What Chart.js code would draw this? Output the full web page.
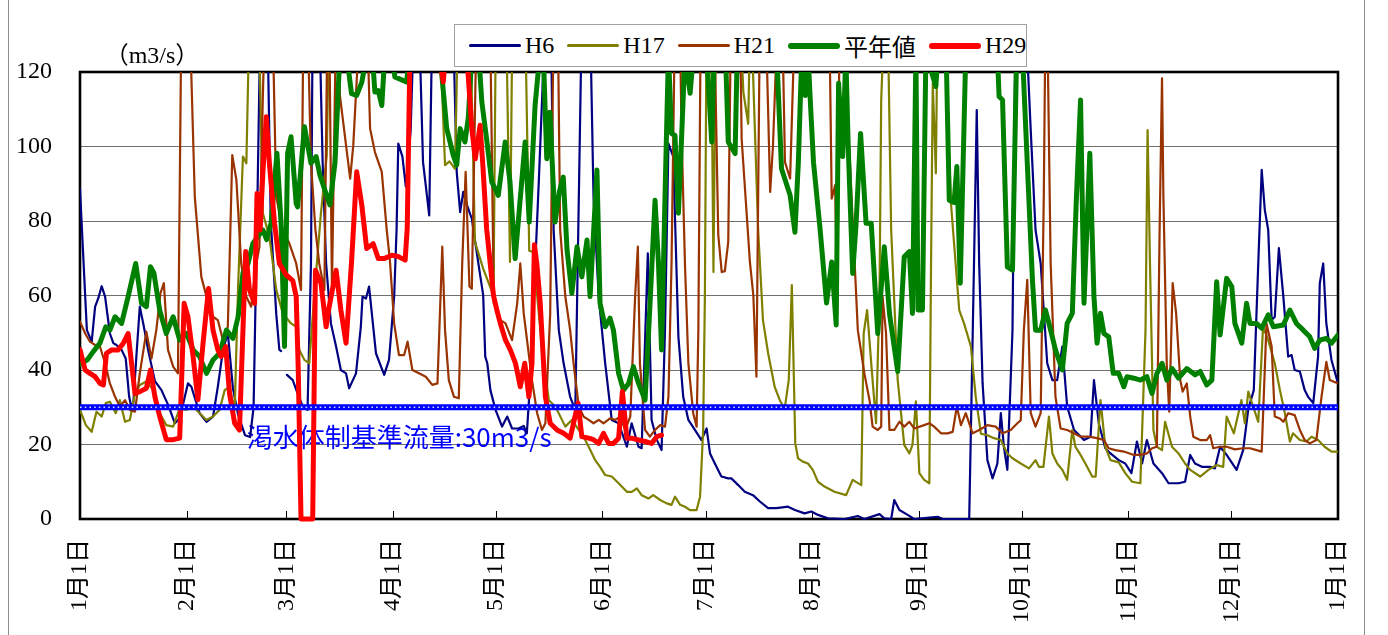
<!DOCTYPE html>
<html>
<head>
<meta charset="utf-8">
<script src="https://cdn.jsdelivr.net/npm/chart.js@4.4.0/dist/chart.umd.min.js"></script>
<style>
body{margin:0;background:#fff;}
#wrap{position:relative;width:1388px;height:635px;overflow:hidden;background:#fff;}
#frame{position:absolute;left:8px;top:0;width:1355px;height:635px;border-left:1px solid #8c8c8c;border-right:1px solid #8c8c8c;}
canvas{position:absolute;left:0;top:0;}
#unit{position:absolute;left:102px;top:40px;width:100px;text-align:center;font:24px "Liberation Serif","Noto Sans CJK JP",serif;font-feature-settings:"halt";line-height:30px;}
#legend{position:absolute;left:454px;top:24px;width:573px;height:43px;box-sizing:border-box;border:1px solid #a0a0a0;background:#fff;display:flex;align-items:center;padding-left:14px;font:24px "Liberation Serif","Noto Sans CJK JP",serif;}
.item{display:flex;align-items:center;margin-right:13px;white-space:nowrap;}
.swatch{width:52px;margin-right:4px;border-radius:3px;}
</style>
</head>
<body>
<div id="wrap">
  <div id="frame"></div>
  <canvas id="flowChart" width="1388" height="635"></canvas>
  <div id="unit">（m3/s）</div>
  <div id="legend"></div>
</div>
<script>
// x = day of year (leap-year calendar, Feb 29 included), y = flow (m3/s)
// values above 120 run off the top of the plot
const monthStartDays = [0, 31, 60, 91, 121, 152, 182, 213, 244, 274, 305, 335, 366];
const monthLabels = ['1月1日','2月1日','3月1日','4月1日','5月1日','6月1日','7月1日','8月1日','9月1日','10月1日','11月1日','12月1日','1月1日'];

const droughtFlow = 30;
const droughtLabel = '渇水体制基準流量:30m3/s';

const h6 = [[0,88.5],[1.5,60],[2,50.7],[3.4,47.6],[4.4,57],[5.3,59.2],[6.3,62.5],[7.3,59.7],[8.7,49.8],[9.7,47.2],[10.6,46.7],[12.1,45.4],[13.3,43.1],[14.3,32.8],[14.8,30.6],[15.5,31],[16.5,45],[17.4,57],[18.5,52],[19.9,45],[21.8,37],[23.7,34.6],[25.7,30.5],[27.6,25.7],[29,27],[31.4,36.4],[32.4,35.5],[34.8,28.4],[36.8,26.1],[38.7,27.5],[40.1,35.5],[41.6,45.4],[43,50],[44.5,35],[46,28],[48,22.5],[49.5,22],[50.5,30],[51.7,90],[52.5,135],[54.5,135],[55.5,80],[57.1,55],[58,45.4],[58.5,45.1],[59,null],[60.2,38.7],[61.9,37.3],[63.3,33.7],[64.8,30.2],[66.2,29.3],[67.2,68.6],[67.7,135],[69.6,135],[70.6,95.5],[71.6,68.6],[73,52.5],[74.5,46.3],[75.9,40],[77.4,39.1],[78.3,35.1],[80.3,39.1],[81.7,51.6],[82.2,59.7],[83.2,59.2],[84.1,62.4],[86.1,44.5],[88.5,38.7],[89.9,42.7],[91.4,59.7],[92.1,77.6],[92.6,100.8],[93.8,97.3],[94.8,89.2],[96.2,104.4],[97.2,135],[98.6,135],[99.8,95.8],[100.7,88.7],[101.6,81.5],[102.5,135],[108.5,135],[109.6,93.2],[110.6,82.4],[111.5,87.8],[112.7,84],[114,80.6],[116,68],[117.3,60.1],[117.9,43.6],[118.5,41.8],[119.4,34.6],[120.9,29.3],[122.8,24.8],[124.3,27.5],[125.7,24.3],[127.6,24.3],[129.1,25],[130,23],[131,37.3],[133.5,91],[135.4,135],[137,135],[137.8,77.6],[139.3,50.7],[140.7,41.8],[142.6,32.8],[144.1,29.3],[146,135],[148.4,135],[149.4,86.5],[150.9,59.7],[152.8,41.8],[154.7,26.6],[156.7,25.7],[159.1,19.4],[160.5,25.7],[162.5,19.4],[163.4,19],[165.2,71.3],[166.3,26.6],[167.8,21.3],[169.2,18.5],[170.2,50.7],[171.2,100.8],[172.6,97.3],[174.1,48.9],[175.5,32.8],[177,26.6],[178.9,23.9],[180.8,21.2],[182.3,24.3],[183.3,17.6],[184.7,14.9],[186.6,11.4],[188.6,10.9],[189.5,10.9],[191.5,9.1],[193.4,7.3],[195.8,6.4],[197.8,4.7],[200.2,2.9],[202.6,2.9],[206,3.3],[208,2.4],[210.8,1.5],[212.8,2],[214.7,1.1],[217.6,0.2],[222.4,0],[226.3,0.8],[228.2,0],[232.6,1.3],[234,0.2],[236,0],[236.9,5.1],[238.4,2.4],[240.8,1.1],[242.7,0],[249.5,0.6],[251,0],[258.7,0],[259.2,23.9],[260.1,68.6],[260.9,109.8],[261.6,68.6],[262.6,36.4],[264,15.8],[265.5,10.9],[266.9,14.9],[267.9,28.4],[268.8,19.4],[269.8,13.2],[271.3,50.7],[272.2,135],[275.1,135],[276.6,104.4],[278,77.6],[279.5,68.6],[281.4,41.8],[282.9,37.3],[284.3,37.3],[285.8,46.3],[287.2,30.2],[289.2,23.9],[292.1,21.2],[294,22.1],[295,37.3],[296.4,25.7],[298.3,19],[299.8,17.6],[302.2,15.8],[304.1,14.9],[305.9,12.3],[307.5,20.8],[309,14.9],[310.4,21.2],[312.3,14.9],[314.8,12.3],[316.7,9.6],[319.6,9.6],[321.5,10],[323,17.2],[324.4,14.9],[326.4,14],[328.8,14],[330.2,13.6],[331.7,19.4],[333.6,17.2],[336.5,13.2],[338.4,18.5],[339.9,29.5],[341.5,34.6],[342.8,68.6],[343.8,93.7],[344.7,83],[345.7,77.6],[346.7,53.4],[347.6,54.3],[348.8,72.7],[350.1,59.7],[351.5,43.6],[352.5,44],[353.4,40],[354.9,39.6],[356.3,34.6],[357.3,32.8],[358.8,31.1],[360.2,43.6],[360.7,63.3],[361.7,68.6],[362.6,52.5],[364.1,42.7],[366,36.4]];

const h17 = [[0,29.3],[1.7,25.2],[3.4,23.4],[4.8,28.8],[6.3,27.5],[7.5,31.1],[8.7,31.5],[10.4,28.4],[11.6,31.9],[13.1,26.1],[14.5,26.6],[16,33.7],[17.4,36],[19.3,36.9],[21.3,34.6],[23.2,28.4],[25.1,25.2],[27.1,24.8],[29,29.7],[31,29.3],[32.9,30.2],[34.8,28.4],[36.8,26.6],[38.7,27.5],[40.6,29.3],[42.1,34.6],[43.5,35.5],[45,29.3],[46,62.4],[47.4,97.3],[48.4,95.5],[49.3,135],[52,135],[53.2,82.1],[55.1,75.8],[57.1,61.5],[59,55.2],[61.4,52.5],[62.9,51.6],[63.8,45.4],[65.3,42.7],[66.7,41.8],[68.2,60.6],[70.1,82.1],[71.8,97.6],[72.5,135],[104.5,135],[106.2,95],[107.5,96],[109.1,94],[110,135],[113.5,135],[114.9,74.4],[117.3,67.2],[120.3,60],[121,135],[124,135],[125.1,69],[125.8,135],[129.5,135],[130.7,72],[131.8,71.7],[133,60],[134.5,45],[136.4,31.9],[138.3,30.2],[141.2,24.8],[143.1,26.6],[145.1,23.9],[146.5,22.1],[148,19.4],[149.9,15.8],[151.3,14],[152.8,11.8],[154.7,11.4],[156.7,9.6],[159.1,7.3],[160.5,7.3],[162,8.2],[163.4,6.4],[165.4,5.5],[166.8,6.4],[168.8,5.1],[170.7,4.2],[172.1,3.8],[173.1,6],[174.6,3.8],[176,3.3],[177.5,2.4],[179.4,2.4],[180.4,6],[181.3,23.9],[181.8,59.7],[182.3,135],[183.6,135],[184.3,66.3],[185,135],[192,135],[193,114.6],[194.4,106.1],[195,135],[195.8,120],[197.3,77.6],[198.7,53.4],[200.2,44.5],[202.1,35.5],[203.6,31.9],[205,29.5],[206.2,37.3],[207.1,62.8],[208.1,20.3],[208.9,16.3],[210.3,15.4],[211.8,14.9],[213.2,13.2],[214.7,10],[216.6,8.7],[219.5,7.3],[222.9,6.4],[224.8,10.5],[227.3,9.1],[228,49.8],[229,56.1],[230.2,41.8],[231.6,25.7],[232.6,59.7],[233.1,112.5],[234,135],[235,135],[236,77.6],[237.9,37.3],[239.8,19.9],[241.3,17.6],[242.2,19.9],[243.2,31.6],[244.2,12.3],[245.6,10.5],[247.1,9.6],[247.6,68.6],[248.1,117],[249,92.8],[249.5,135],[251.4,135],[253.4,84.7],[255.8,56.1],[257.2,52.5],[259.2,46.3],[260.6,32.8],[262.1,22.9],[264,22.5],[265.9,21.7],[267.9,21.2],[269.8,17.6],[271.3,16.3],[273.7,14.9],[276.1,13.6],[278,15.8],[279,14],[280.3,14],[281.9,27.5],[282.9,17.6],[284.3,14.9],[285.8,13.2],[287.2,10.5],[288.7,23.9],[289.6,19.4],[291.1,17.2],[292.5,14.9],[294.5,11.4],[295.5,11.4],[296.9,31.9],[298.3,19.4],[299.8,15.8],[302.2,15.2],[304.1,12.3],[306.1,10],[308.5,9.6],[310,50.7],[310.6,104.4],[311.3,68.6],[312.3,23.9],[313.3,19.4],[314.8,18.5],[315.7,26.1],[317.7,19.4],[319.6,17.6],[321.5,14.9],[323,13.2],[325.9,11.4],[328.3,13.2],[330.7,14.5],[332.6,14],[333.6,27.5],[335.7,23],[337.9,31.9],[338.9,25.7],[339.9,34.2],[341.3,30.2],[342.8,26.1],[344.2,51.6],[345.7,48],[347.6,41.8],[349.1,34.6],[350.5,28.6],[352,20.8],[352.9,23],[354.9,21.2],[356.8,20.8],[358.3,22.1],[360.2,21.2],[362.1,19.4],[364.1,18.1],[366,18.1]];

const h21 = [[0,53],[1.5,49.8],[2.9,47.6],[4.4,46.7],[5.8,46.3],[7.3,41.8],[8.7,36.4],[10.2,32.8],[11.6,30.2],[13.1,31.9],[14.5,29.3],[16,28.8],[17.4,39.1],[19.3,50.3],[20.8,43.1],[22.2,50.7],[23.4,60.6],[24.4,63.3],[25.6,45.4],[27.1,40.9],[28.5,39.1],[29.5,135],[31.9,135],[33.4,86.5],[35.3,65],[36.8,59.7],[38.7,54.3],[40.1,53.4],[41.6,48],[43,51.6],[43.5,68.6],[44.3,97.7],[45.5,91],[46.9,68.6],[48.4,59.7],[49.8,57],[51.3,68.6],[52.2,73.1],[53.2,113.4],[53.8,135],[56,135],[57.1,86.5],[59,77.6],[60.9,74],[62.9,68.6],[64.3,61.5],[65,135],[66.2,135],[67.2,95.5],[68.5,77.6],[69.6,68.6],[71.1,61.5],[72,135],[72.5,135],[73.3,62],[74.5,135],[75.6,113.8],[78.6,91.4],[79.5,100.3],[81.5,135],[83.5,135],[84.4,104.8],[85.8,98.5],[87.8,93.2],[89.2,78],[90.2,69],[91.4,52.5],[92.8,44],[94.3,44],[95.3,47.6],[96.7,40],[98.6,39.1],[100.6,38.2],[102.5,36],[104,36.4],[105.4,73.1],[106.2,50.7],[107.3,37.3],[108.8,32.8],[110.2,32.4],[111.2,68.6],[112.2,93.2],[113.3,62.4],[114,61.8],[115.4,135],[119.3,135],[120.4,57.9],[122.3,53.4],[123.8,52.5],[125.7,48],[127.2,57.9],[128.1,68.6],[129.1,55.2],[131.5,37.3],[133,28.4],[134.4,23.9],[135.4,25.7],[136.8,55.2],[137.8,135],[139,135],[139.7,77.6],[141.2,59.7],[142.6,50.7],[143.6,41.8],[145.1,30.2],[146.5,27.5],[148,26.6],[149.4,25.7],[150.9,26.6],[152.3,25.7],[154.2,27],[155.7,26.6],[157.2,27.5],[158.6,23.9],[160.1,27.5],[161.5,59.7],[162.3,73.1],[162.9,41.8],[164.4,23.9],[165.8,22.1],[167.3,23.9],[168.8,25.2],[170.2,24.8],[171.2,32.8],[172.1,68.6],[173.1,135],[174.5,135],[175,104.4],[176,68.6],[177,41.8],[178.4,28.4],[179.4,24.8],[179.9,50.7],[180.6,135],[184.5,135],[185.7,76.2],[186.7,66.3],[187.6,66.5],[188.6,74.4],[189.4,135],[192,135],[192.5,102],[194.9,69],[195.9,60],[196.8,38.2],[197.8,135],[199.5,135],[200.8,87.8],[201.6,100],[203,135],[204.3,135],[205.1,95.8],[206.6,91.4],[208,135],[218,135],[218.7,86],[219.7,89.6],[220.3,55.2],[221,135],[222,135],[226.3,50.7],[228.2,39.1],[229.7,31.9],[230.6,24.8],[232.1,23.9],[233.1,24.8],[233.5,59.7],[234.5,50],[235.5,23.9],[236.9,23.9],[238.4,26.1],[239.8,24.8],[241.3,26.1],[242.7,24.3],[245.6,25.2],[247.1,25.7],[248.5,24.8],[250.5,23],[252.4,23],[253.9,23.4],[255.1,30.2],[256.3,25.2],[257.7,28.4],[259.7,23],[261.6,23.9],[264,25.2],[266.4,24.8],[268.4,23],[270.8,23.9],[272.7,25.7],[273.7,26.5],[274.6,50.7],[275.6,64.2],[276.6,28.4],[278,24.8],[279.5,28.4],[280.4,86.5],[280.9,135],[281.4,135],[282.4,68.6],[283.8,32.8],[285.3,24.3],[287.2,23.9],[289.2,23],[291.1,22.1],[293.5,22.1],[295.9,21.7],[297.9,21.2],[299.3,19],[301.2,18.5],[303.7,18.1],[306.6,17.2],[308.5,17.2],[310.4,17.6],[311.9,19],[313.3,19.4],[314.1,77.6],[314.8,118.3],[315.2,86.5],[316.2,40.9],[316.9,28.8],[317.9,63.3],[318.9,55.2],[320.1,37.3],[320.8,34.2],[322,36.4],[323,27.5],[323.9,22.1],[325.9,21.2],[327.8,21.2],[328.8,22.5],[329.7,19],[331.7,19.4],[333.6,19.4],[336,18.7],[338.4,19],[340.4,19],[342.3,18.5],[343.8,18.1],[345.2,52.5],[346.7,46.3],[347.6,27.5],[349.1,27],[350.1,26.1],[351.5,28.4],[353.4,27.9],[354.9,23.9],[356.3,21.2],[357.8,20.3],[359.7,21.2],[361.2,32.8],[362.6,42.2],[363.6,37.3],[366,36.4]];

const normalYear = [[0,41.5],[2.1,42.7],[3.9,45],[5.8,47.2],[7.5,51.6],[8.7,50.7],[10.2,54.3],[12.1,52.5],[14,59.7],[16.2,68.6],[17.9,57.9],[19.3,57],[20.5,67.7],[21.5,66],[23.2,56],[25.1,49.8],[27.1,54.3],[29,48],[31,49.8],[32.9,45.4],[34.8,43.6],[36.8,39.1],[38.7,42.7],[40.6,44.5],[42.6,50.7],[44.5,48.5],[46,54.3],[47.4,66],[48.9,68.6],[50.3,74],[51.7,75.8],[53.2,77.6],[54.3,75],[55.6,79.4],[57.3,98.2],[58.5,79.4],[59.5,46.3],[60.4,98.2],[61.4,102.6],[62.9,84.7],[63.3,83.8],[65.3,105.3],[67.2,95.5],[68.7,97.3],[69.8,92.3],[72.7,84.3],[74.2,95.8],[75.6,125],[77.5,125],[79,114.2],[80.5,113.7],[82,117.3],[83.5,125],[85,125],[85.8,114.6],[86.8,115],[87.8,111],[88.7,125],[90.8,125],[91.6,118.7],[95,117.3],[96,125],[104.7,125],[106.7,104.8],[108.6,97.6],[109.6,95],[110.6,104.8],[112,101.2],[113,108],[114,125],[116,125],[116.9,112],[118.3,102],[119.8,90.5],[121.7,86.9],[123.7,101.2],[125.1,90.5],[126.6,69.9],[128,85.1],[129.5,101.2],[130.7,79.7],[132.4,111],[133.8,125],[134.8,125],[135.8,96.7],[136.7,109.2],[138.2,79.7],[139.5,88],[140.6,91.8],[141.7,72.2],[143.1,60.6],[144.6,73.1],[146,65],[147.5,74.9],[148.4,59.7],[150.4,93.7],[151.3,57.9],[152.8,51.6],[154.2,53.9],[155.2,50.7],[156.7,39.1],[158.1,34.6],[159.6,36.4],[161,40.9],[162.5,36.4],[164.4,31.9],[165.8,57],[167.3,85.6],[168.3,68.6],[169.2,45.4],[170.2,86.5],[171.2,125],[172.1,103.5],[173.1,103],[174.1,82.1],[175,101.8],[176,125],[177.5,114.3],[178.5,125],[182.3,125],[183.8,101.2],[184.5,125],[187.8,125],[188.6,101.2],[190.6,98.1],[191.2,125],[202.7,125],[204.1,94],[206.6,86.9],[208,77],[209,95.8],[210,125],[211,113.7],[211.8,125],[212.6,110],[213.4,95.8],[215.3,78],[217.2,58],[218.7,69],[220,52.1],[220.7,117],[221.9,97.3],[222.8,125],[223.5,100],[224.8,65.9],[225.8,79.4],[227.1,103.5],[228.7,79.4],[230.2,79.4],[232.1,49.8],[234,73.1],[235.5,55.2],[237.9,39.6],[239.8,70.4],[241.3,71.8],[242.2,55.2],[243.2,125],[243.8,56.1],[245.1,56.1],[246.1,125],[249,116.1],[249.6,125],[252,125],[252.9,85.6],[254.3,85],[255.1,94.6],[256.1,63.3],[257.7,125],[266.9,125],[267.4,113.4],[268.4,112.5],[269.8,67.7],[271.3,66.8],[272.5,125],[274.2,125],[275.6,95.5],[277.1,64.2],[278,50.7],[279.5,50.7],[280.9,56.1],[282.4,50.7],[283.8,45.4],[285.8,40],[287.2,52.5],[288.7,55.2],[289.9,86.5],[291.1,112.5],[292.1,57.9],[293.8,98.2],[295,59.7],[295.9,47.2],[296.9,55.2],[297.9,49.8],[299.3,48.9],[300.6,39.1],[302.2,39.1],[303.7,35.5],[304.6,38.2],[306.6,37.8],[308.5,37.3],[310.4,38.2],[311.9,33.7],[313.3,39],[314.8,41.8],[316.2,37.3],[317.7,40.4],[319.6,37.8],[322,40.4],[324.4,38.7],[325.9,39.6],[327.8,36],[329.3,37.3],[330.7,63.7],[331.7,49.4],[333.6,64.6],[335.1,62.4],[336,52.5],[338,47.2],[339.4,57.9],[340.4,52.5],[342.3,52.5],[343.8,51.2],[345.7,54.8],[347.2,51.6],[350.1,52.1],[352,56.1],[353.9,52.5],[355.9,50.7],[357.8,48.9],[359.2,45.8],[360.7,48],[362.6,48.5],[364.1,47.2],[366,49.4]];

const h29 = [[0,45.5],[1.5,40],[2.9,39.1],[4.4,38.2],[5.8,36.4],[6.8,36],[7.7,44.5],[9.2,45.4],[11.1,45.4],[12.6,47.2],[14,49.8],[15,41.8],[16,33.7],[17.4,34.2],[19.3,35.1],[20.5,40],[21.8,32.8],[23.2,27.5],[25.1,21.3],[27.1,21.3],[29,21.7],[30.3,57.9],[31.4,54.3],[32.9,43.6],[34.3,32],[35.8,47.2],[37.4,61.9],[38.7,50.7],[40.1,45.4],[41.1,43.6],[42.4,46.3],[43.5,33.7],[45,25.7],[46.4,23.9],[48.2,71.8],[49.3,61.5],[50.8,57.9],[51.5,87.4],[52.4,77.6],[53.2,92.8],[54.2,108],[55.1,95.5],[56.6,79.4],[58,68.6],[60,65.5],[61.9,64],[62.9,59.7],[63.5,40],[64.3,0],[67.7,0],[68.2,41.8],[68.5,66.8],[70.1,63.3],[71.6,51.6],[72.5,57],[74.5,66.8],[75.9,56.1],[77.4,47.2],[79,69],[80.5,93.2],[82,84.2],[83.4,72.6],[85.3,73.9],[86.8,69.9],[88.5,69.9],[90.7,70.8],[92.5,70.5],[94.6,69.5],[95.2,78],[96,125],[104.4,125],[105.7,117.3],[106.3,125],[112.5,125],[114,104.8],[115,96.7],[116.4,105.7],[117.2,95],[118.3,78],[120.3,60],[121.3,56],[122.3,52.5],[123.8,48],[125.2,45.4],[126.7,41.8],[128.1,35.5],[129.4,41.8],[130.6,32.8],[131.5,41.8],[132.2,73.6],[132.9,68.6],[133.9,57.9],[135.4,32.8],[136.8,25.7],[138.8,23.9],[140.7,23],[142.6,21.7],[144.9,31.1],[146,22.1],[148,21.7],[149.4,21.3],[150.9,20.3],[152.3,23],[153.8,20.3],[155.2,20.3],[156.7,21.7],[157.8,34.2],[159.1,21.7],[160.5,21.7],[162.5,21.2],[164.4,20.8],[166.3,20.3],[167.8,22.1],[169.2,22.5]];

const seriesNames = ['H6', 'H17', 'H21', '平年値', 'H29'];
const seriesData = [h6, h17, h21, normalYear, h29];
const seriesColors = ['#000080', '#808000', '#993300', '#008000', '#ff0000'];
const seriesWidths = [2.2, 2.2, 2.2, 5, 5];

const serif = '"Liberation Serif", "Noto Sans CJK JP", serif';

function toPoints(pairs) {
    return pairs.map(p => ({x: p[0], y: p[1]}));
}

// dataset 0 is painted last, so reverse: H29 ends up on top
const lineSets = seriesNames.map((name, i) => ({
    label: name,
    data: toPoints(seriesData[i]),
    borderColor: seriesColors[i],
    backgroundColor: seriesColors[i],
    borderWidth: seriesWidths[i],
    borderJoinStyle: 'round',
    borderCapStyle: 'round',
    pointRadius: 0,
    tension: 0,
    spanGaps: false,
    clip: {left: 0, top: 0, right: 0, bottom: 4}
})).reverse();

const xMin = monthStartDays[0];
const xMax = monthStartDays[monthStartDays.length - 1];

const droughtSets = [
    {
        label: 'dots',
        data: [{x: xMin, y: droughtFlow}, {x: xMax, y: droughtFlow}],
        borderColor: 'rgba(210,225,255,0.95)',
        borderWidth: 1.6,
        borderDash: [1.6, 3.1],
        pointRadius: 0
    },
    {
        label: 'base',
        data: [{x: xMin, y: droughtFlow}, {x: xMax, y: droughtFlow}],
        borderColor: '#0000ff',
        borderWidth: 6,
        pointRadius: 0
    }
];

const framePlugin = {
    id: 'frame',
    beforeDatasetsDraw(chart) {
        const {ctx, chartArea: a, scales: {x, y}} = chart;
        ctx.save();
        // blue label sits under the lines
        ctx.fillStyle = '#0000ff';
        ctx.font = '26px "Noto Sans CJK JP", sans-serif';
        ctx.textBaseline = 'middle';
        ctx.textAlign = 'left';
        ctx.fillText(droughtLabel, x.getPixelForValue(48.5), y.getPixelForValue(22));

        ctx.strokeStyle = '#000';
        ctx.lineWidth = 1;
        monthStartDays.slice(1, -1).forEach(d => {
            const px = Math.round(x.getPixelForValue(d)) + 0.5;
            ctx.beginPath();
            ctx.moveTo(px, a.bottom);
            ctx.lineTo(px, a.bottom - 8);
            ctx.stroke();
        });
        ctx.lineWidth = 2.6;
        ctx.strokeRect(a.left, a.top, a.right - a.left, a.bottom - a.top);
        ctx.restore();
    }
};

new Chart(document.getElementById('flowChart'), {
    type: 'line',
    data: {datasets: droughtSets.concat(lineSets)},
    options: {
        responsive: false,
        animation: false,
        layout: {padding: {left: 0, right: 50, top: 72, bottom: 0}},
        plugins: {legend: {display: false}, tooltip: {enabled: false}},
        scales: {
            x: {
                type: 'linear',
                min: xMin,
                max: xMax,
                afterBuildTicks: s => { s.ticks = monthStartDays.map(v => ({value: v})); },
                afterFit: s => { s.height = 116; },
                grid: {display: false, drawTicks: false},
                border: {display: false},
                ticks: {
                    autoSkip: false,
                    minRotation: 90,
                    maxRotation: 90,
                    padding: 20,
                    color: '#000',
                    font: {family: serif, size: 24},
                    callback: (v, i) => monthLabels[i]
                }
            },
            y: {
                min: 0,
                max: 120,
                afterFit: s => { s.width = 80; },
                grid: {color: '#707070', lineWidth: 1, drawTicks: false},
                border: {display: false},
                ticks: {stepSize: 20, padding: 28, color: '#000', font: {family: serif, size: 24}}
            }
        }
    },
    plugins: [framePlugin]
});

// legend
const legend = document.getElementById('legend');
seriesNames.forEach((name, i) => {
    const item = document.createElement('div');
    item.className = 'item';
    const sw = document.createElement('span');
    sw.className = 'swatch';
    sw.style.height = (seriesWidths[i] > 3 ? 6 : 3) + 'px';
    sw.style.background = seriesColors[i];
    const txt = document.createElement('span');
    txt.textContent = name;
    item.appendChild(sw);
    item.appendChild(txt);
    legend.appendChild(item);
});
</script>
</body>
</html>
